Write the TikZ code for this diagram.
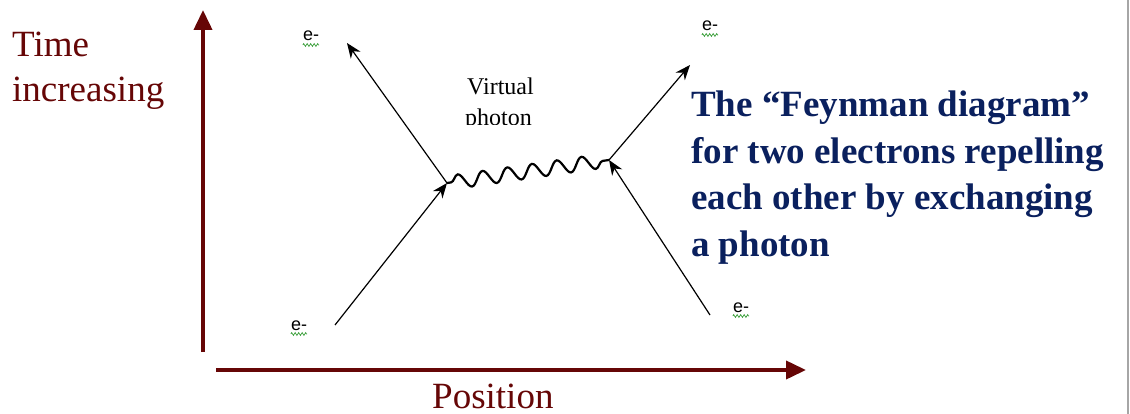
\documentclass[tikz,border=0pt]{standalone}
\usepackage{fontspec}
\setmainfont{Liberation Serif}
\newfontfamily\labelfont{Liberation Sans}
\usetikzlibrary{arrows.meta,decorations.pathmorphing}
\definecolor{axiscol}{RGB}{102,6,6}
\definecolor{navycol}{RGB}{10,32,94}
\definecolor{spellcol}{RGB}{60,160,60}
\tikzset{
  x=1pt,y=-1pt,
  axis/.style={draw=axiscol,line width=3.8pt,-{Triangle[length=20pt,width=18pt]}},
  fermion/.style={draw=black,line width=1.2pt,-{Stealth[length=15pt,width=12pt]}},
  photon/.style={draw=black,line width=2.2pt,decorate,decoration={snake,segment length=25pt,amplitude=7pt,pre length=4pt,post length=4pt}},
  elabel/.style={font=\labelfont\fontsize{18}{20}\selectfont,inner sep=0pt,anchor=base},
  spell/.style={draw=spellcol,line width=0.7pt,decorate,decoration={zigzag,segment length=3.5pt,amplitude=1.4pt}},
  bigtext/.style={font=\fontsize{37}{45}\selectfont,text=axiscol,inner sep=0pt,anchor=base west},
  desctext/.style={font=\bfseries\fontsize{37}{45}\selectfont,text=navycol,inner sep=0pt,anchor=base west},
  vptext/.style={font=\fontsize{24}{30}\selectfont,inner sep=0pt,anchor=base west},
}
\begin{document}
\begin{tikzpicture}
\useasboundingbox[fill=white] (0,0) rectangle (1130,414);
\draw[gray!70,line width=1.2pt] (1128,0) -- (1128,414);
% axes
\coordinate (yb) at (203,352);
\coordinate (yt) at (203,10);
\coordinate (xb) at (216,370);
\coordinate (xt) at (806,370);
\draw[axis] (yb) -- (yt);
\draw[axis] (xb) -- (xt);
\node[bigtext] (tl1) at (12,57) {Time};
\node[bigtext] (tl2) at (12,102) {increasing};
\node[bigtext] (pos) at (432,408) {Position};
% Feynman diagram
\coordinate (v1) at (447,183);
\coordinate (v2) at (609,160);
\coordinate (a) at (335,325);
\coordinate (b) at (710,315);
\coordinate (c) at (347,43);
\coordinate (d) at (690,65);
\draw[fermion] (a) -- (v1);
\draw[fermion] (v1) -- (c);
\draw[fermion] (b) -- (v2);
\draw[fermion] (v2) -- (d);
\draw[photon] (v1) -- (v2);
% labels
\node[elabel] (e1) at (311,41) {e-};
\node[elabel] (e2) at (710,31) {e-};
\node[elabel] (e3) at (299,330) {e-};
\node[elabel] (e4) at (741,312) {e-};
\foreach \n in {e1,e2,e3,e4}{
  \draw[spell] ([yshift=-4pt]\n.base west) -- ([yshift=-4pt]\n.base east);
}
\begin{scope}
\clip (440,60) rectangle (580,125);
\node[vptext] (vp1) at (467,95) {Virtual};
\node[vptext] (vp2) at (465,126) {photon};
\end{scope}
\node[desctext] (d1) at (691,117) {The ``Feynman diagram''};
\node[desctext] (d2) at (691,164) {for two electrons repelling};
\node[desctext] (d3) at (691,210) {each other by exchanging};
\node[desctext] (d4) at (691,256) {a photon};
\end{tikzpicture}
\end{document}
